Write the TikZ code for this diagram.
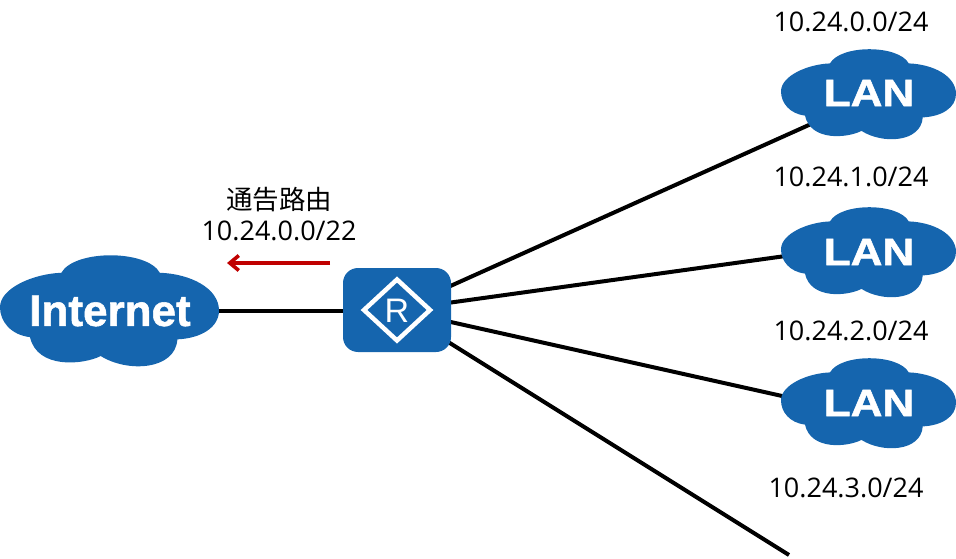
\documentclass[tikz,border=0pt]{standalone}
\usepackage{fontspec}
\usepackage{graphicx}
\setmainfont{Open Sans}
\newfontfamily\cjkfont{Noto Sans CJK SC}
\newfontfamily\arialfont{Liberation Sans}
\newfontfamily\heavyfont[BoldFeatures={FakeBold=1.2}]{Liberation Sans}
\usetikzlibrary{arrows.meta,backgrounds}
\definecolor{netblue}{HTML}{1565AE}
\definecolor{advred}{HTML}{C00000}
\newcommand{\cloudshape}[4]{%
  \begin{scope}[shift={(#1,#2)},x=#3pt,y=-#4pt]
    \fill[netblue] (0,.47)
      .. controls (0,.3) and (.15,.17) .. (.28,.16)
      .. controls (.34,-.05) and (.67,-.05) .. (.73,.16)
      .. controls (.87,.17) and (1,.3) .. (1,.5)
      .. controls (1,.65) and (.92,.75) .. (.81,.76)
      .. controls (.8,1.04) and (.58,1.06) .. (.46,.91)
      .. controls (.38,.99) and (.17,1.03) .. (.137,.74)
      .. controls (.05,.72) and (0,.6) .. (0,.47) -- cycle;
  \end{scope}}
\tikzset{
  iplabel/.style={inner sep=0pt,font=\fontsize{27}{30}\selectfont,text=black},
  cloudtext/.style={inner sep=0pt,text=white},
  lantext/.style={cloudtext,font=\heavyfont\bfseries\fontsize{38}{42}\selectfont},
  link/.style={draw=black,line width=4pt},
  routerbox/.style={fill=netblue,rounded corners=15pt,minimum width=108pt,minimum height=84pt,inner sep=0pt},
  advert/.style={draw=advred,line width=3.6pt,-{Straight Barb[length=9pt,width=15pt]}}
}
\begin{document}
\begin{tikzpicture}[x=1pt,y=-1pt]
\useasboundingbox (0,0) rectangle (956,559);
\cloudshape{0}{255}{219}{111}
\cloudshape{781}{49}{175}{90}
\cloudshape{781}{207}{175}{90}
\cloudshape{781}{358}{175}{90}
\node[cloudtext,font=\heavyfont\bfseries\fontsize{44}{48}\selectfont] (inet) at (110,311) {Internet};
\node[lantext] (lan1) at (869,93) {\scalebox{1.16}[1]{LAN}};
\node[lantext] (lan2) at (869,252) {\scalebox{1.16}[1]{LAN}};
\node[lantext] (lan3) at (869,403) {\scalebox{1.16}[1]{LAN}};
\node[routerbox] (router) at (397,310) {};
\draw[white,line width=4.5pt,line join=miter] (364,310) -- (397,279.5) -- (430,310) -- (397,340.5) -- cycle;
\node[inner sep=0pt,text=white,font=\arialfont\fontsize{34}{36}\selectfont] (rtext) at (397,311) {R};
\coordinate (end1) at (820,120);
\coordinate (end2) at (800,254);
\coordinate (end3) at (800,400);
\coordinate (end4) at (789,555);
\begin{scope}[on background layer]
  \draw[link] (router.center) -- (end1);
  \draw[link] (router.center) -- (end2);
  \draw[link] (router.center) -- (end3);
  \draw[link] (router.center) -- (end4);
  \draw[link] (inet.center) -- (inet.center -| router.center);
\end{scope}
\node[iplabel] (t0) at (851,22) {10.24.0.0/24};
\node[iplabel] (t1) at (851,177) {10.24.1.0/24};
\node[iplabel] (t2) at (851,331) {10.24.2.0/24};
\node[iplabel] (t3) at (846,488) {10.24.3.0/24};
\node[iplabel] (t4) at (279,231) {10.24.0.0/22};
\node[inner sep=0pt,font=\cjkfont\fontsize{26.5}{30}\selectfont] (adv) at (279,200) {通告路由};
\coordinate (arrS) at (330,263);
\coordinate (arrE) at (227,263);
\draw[advert] (arrS) -- (arrE);
\end{tikzpicture}
\end{document}
